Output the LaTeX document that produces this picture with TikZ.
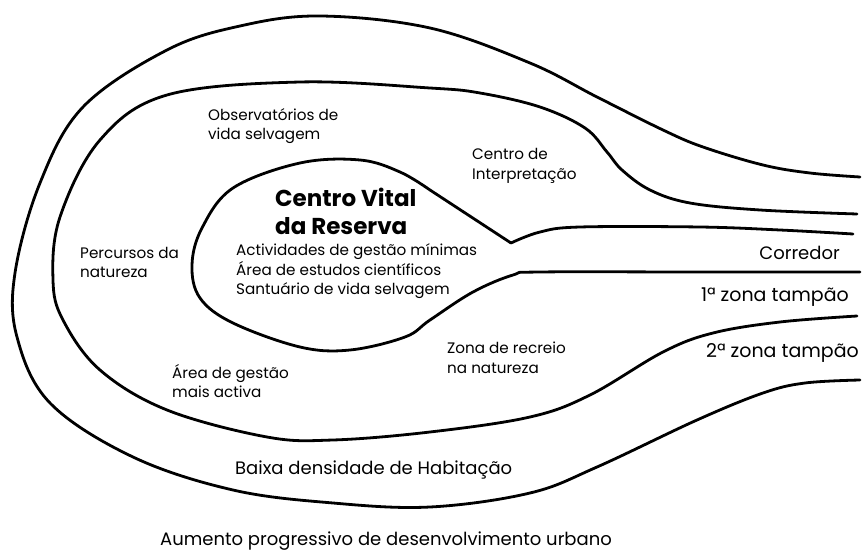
\documentclass[tikz,border=0pt]{standalone}
\usepackage{fontspec}
\setmainfont{Poppins}
\begin{document}
\begin{tikzpicture}[x=1pt,y=-1pt,
  zone/.style={line width=2.8pt, line cap=round, line join=round},
  lbl/.style={inner sep=0pt, align=left, anchor=west, font=\fontsize{15.2}{19.5}\selectfont},
  big/.style={inner sep=0pt, align=left, anchor=west, font=\fontsize{18}{22}\selectfont},
  core/.style={inner sep=0pt, align=left, anchor=west, font=\fontsize{23}{28}\selectfont\bfseries}]
\useasboundingbox[fill=white] (0,0) rectangle (862,556);

% outer boundary
\draw[zone] plot[smooth, tension=0.6] coordinates {
 (860,177) (810,173) (763,165) (703,147) (663,130) (597,97) (530,63) (430,28)
 (320,16) (240,26) (167,50) (83,107) (40,183) (15,273) (17,337) (50,403)
 (133,457) (233,490) (333,503) (430,507) (530,493) (597,467) (697,420)
 (763,393) (805,383) (860,380)};

% second boundary
\draw[zone] plot[smooth, tension=0.6] coordinates {
 (857,214) (760,210) (690,203) (650,190) (622,170) (607,152) (585,128)
 (540,107) (480,93) (430,88) (300,82) (167,95) (100,140) (60,217) (53,280)
 (63,320) (100,370) (167,410) (267,437) (333,440) (430,432) (530,417)
 (590,395) (663,352) (713,333) (780,322) (857,316)};

% core
\coordinate (notch) at (511,243);
\draw[zone] plot[smooth, tension=0.6] coordinates {
 (860,272) (700,272) (540,272) (513,275) (473,292) (430,320) (405,337)
 (350,350) (300,347) (233,323) (200,298) (192,265) (202,228) (233,188)
 (300,163) (360,160) (400,172) (430,190)} -- (notch);
\draw[zone] plot[smooth, tension=0.6] coordinates {
 (511,243) (540,232) (580,227) (700,227) (780,230) (853,234)};

% labels
\node[lbl] (obs) at (208,126) {Observatórios de\\vida selvagem};
\node[lbl] (ci) at (472,166) {Centro de\\Interpretação};
\node[core] (cv) at (275,211) {Centro Vital\\da Reserva};
\node[lbl] (act) at (236,271.5) {Actividades de gestão mínimas\\Área de estudos científicos\\Santuário de vida selvagem};
\node[lbl] (perc) at (80,262.5) {Percursos da\\natureza};
\node[lbl] (ag) at (172,381) {Área de gestão\\mais activa};
\node[lbl] (zr) at (447,358) {Zona de recreio\\na natureza};
\node[big, anchor=east] (cor) at (840,253) {Corredor};
\node[big, anchor=east, font=\fontsize{19}{22}\selectfont] (z1) at (849,297) {1ª zona tampão};
\node[big, anchor=east, font=\fontsize{19}{22}\selectfont] (z2) at (859,353) {2ª zona tampão};
\node[big] (bx) at (235,470) {Baixa densidade de Habitação};
\node[big] (au) at (160,541) {Aumento progressivo de desenvolvimento urbano};
\end{tikzpicture}
\end{document}
